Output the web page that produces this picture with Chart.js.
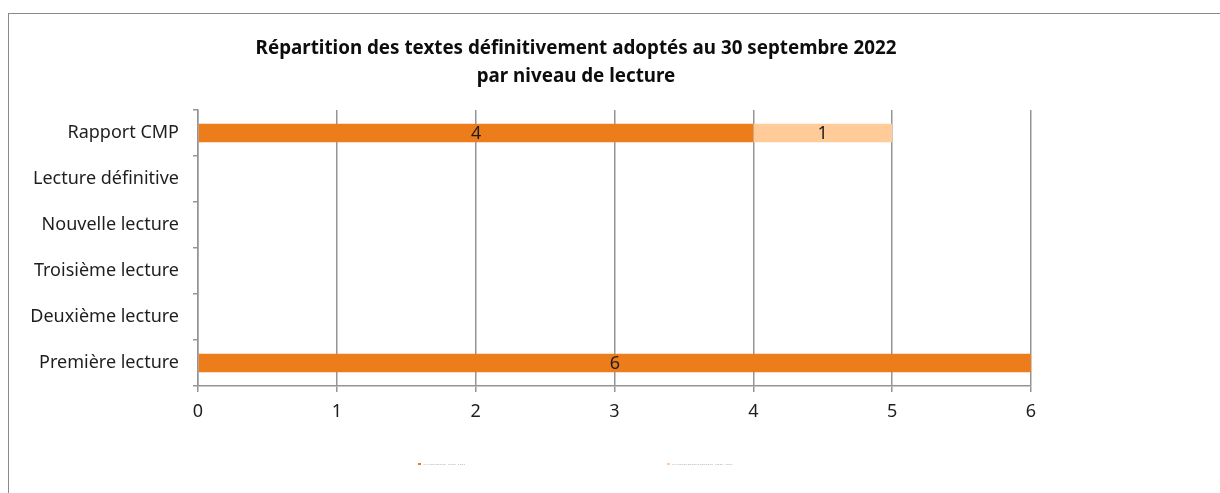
<!DOCTYPE html>
<html lang="fr">
<head>
<meta charset="utf-8">
<title>Répartition des textes définitivement adoptés</title>
<script src="https://cdn.jsdelivr.net/npm/chart.js@4.4.1/dist/chart.umd.min.js"></script>
<style>
    html, body { margin: 0; padding: 0; background: #fff; overflow: hidden; }
    #wrap { position: relative; width: 1220px; height: 493px; }
    #frame {
        position: absolute; left: 8px; top: 13px; right: -5px; bottom: -5px;
        border-left: 1px solid #8a8a8a; border-top: 1px solid #8a8a8a;
        pointer-events: none;
    }
</style>
</head>
<body>
<div id="wrap">
    <canvas id="chart"></canvas>
    <div id="frame"></div>
</div>
<script>
// Categories, top to bottom
const niveaux = ['Rapport CMP', 'Lecture définitive', 'Nouvelle lecture', 'Troisième lecture', 'Deuxième lecture', 'Première lecture'];
const seriesNames = ['Projets de loi', 'Propositions de loi'];
const serie1 = [4, 0, 0, 0, 0, 6];
const serie2 = [1, 0, 0, 0, 0, 0];
const xTicks = [0, 1, 2, 3, 4, 5, 6];

const COLORS = {
    dark: '#ED7D1A',
    light: '#FFCC99',
    grid: '#949494',
    text: '#1e1e1e'
};

Chart.defaults.font.family = "'Noto Sans', sans-serif";
Chart.defaults.color = COLORS.text;

// Value labels centred in each bar
const barLabels = {
    id: 'barLabels',
    afterDatasetsDraw(chart) {
        const ctx = chart.ctx;
        ctx.save();
        ctx.font = "18px 'Noto Sans', sans-serif";
        ctx.fillStyle = COLORS.text;
        ctx.textAlign = 'center';
        ctx.textBaseline = 'middle';
        chart.data.datasets.forEach((ds, di) => {
            chart.getDatasetMeta(di).data.forEach((bar, i) => {
                if (!ds.data[i]) return;
                const p = bar.getCenterPoint();
                ctx.fillText(String(ds.data[i]), p.x, p.y + 1);
            });
        });
        ctx.restore();
    }
};

// Tiny, squashed legend under the axis (as in the original export)
const tinyLegend = {
    id: 'tinyLegend',
    afterDraw(chart) {
        const ctx = chart.ctx;
        const y = chart.chartArea.bottom + 78;
        const starts = [chart.width / 2 - 192, chart.width / 2 + 57];
        ctx.save();
        ctx.textBaseline = 'middle';
        chart.data.datasets.forEach((ds, i) => {
            ctx.fillStyle = ds.backgroundColor;
            ctx.fillRect(starts[i], y - 1, 3, 2);
            ctx.save();
            ctx.translate(starts[i] + 5, y);
            ctx.scale(1, 0.3);
            ctx.font = "7px 'Noto Sans', sans-serif";
            ctx.fillStyle = '#b5b5b5';
            ctx.fillText(ds.label, 0, 0);
            ctx.restore();
        });
        ctx.restore();
    }
};

new Chart(document.getElementById('chart'), {
    type: 'bar',
    data: {
        labels: niveaux,
        datasets: [
            { label: seriesNames[0], data: serie1, backgroundColor: COLORS.dark, barPercentage: 0.4, categoryPercentage: 1 },
            { label: seriesNames[1], data: serie2, backgroundColor: COLORS.light, barPercentage: 0.4, categoryPercentage: 1 }
        ]
    },
    options: {
        indexAxis: 'y',
        responsive: true, maintainAspectRatio: false,
        animation: false,
        layout: { padding: { top: 0, left: 0, right: 68, bottom: 0 } },
        scales: {
            x: {
                stacked: true, min: 0, max: 6,
                afterBuildTicks: s => { s.ticks = xTicks.map(v => ({ value: v })); },
                grid: { color: COLORS.grid, lineWidth: 1.5, drawTicks: true, tickLength: 6 },
                border: { color: COLORS.grid, width: 1.5 },
                ticks: { padding: 9, font: { size: 18 }, color: COLORS.text },
                afterFit: s => { s.height = 107; }
            },
            y: {
                stacked: true,
                grid: { color: COLORS.grid, lineWidth: 1.5, drawOnChartArea: false, drawTicks: true, tickLength: 5 },
                border: { color: COLORS.grid, width: 1.5 },
                ticks: { padding: 14, font: { size: 18 }, color: COLORS.text },
                afterFit: s => { s.width = 198; }
            },
            // empty spacer on the right so the plot stops where the original does
            y2: {
                type: 'category', position: 'right',
                grid: { display: false }, border: { display: false },
                ticks: { display: false },
                afterFit: s => { s.width = 121; }
            }
        },
        plugins: {
            legend: { display: false },
            tooltip: { enabled: false },
            title: {
                display: true,
                text: ['Répartition des textes définitivement adoptés au 30 septembre 2022', 'par niveau de lecture'],
                font: { size: 18.8, weight: 'bold', lineHeight: 28 / 18.8 },
                color: '#0d0d0d',
                padding: { top: 35, bottom: 19 }
            }
        }
    },
    plugins: [barLabels, tinyLegend]
});
</script>
</body>
</html>
